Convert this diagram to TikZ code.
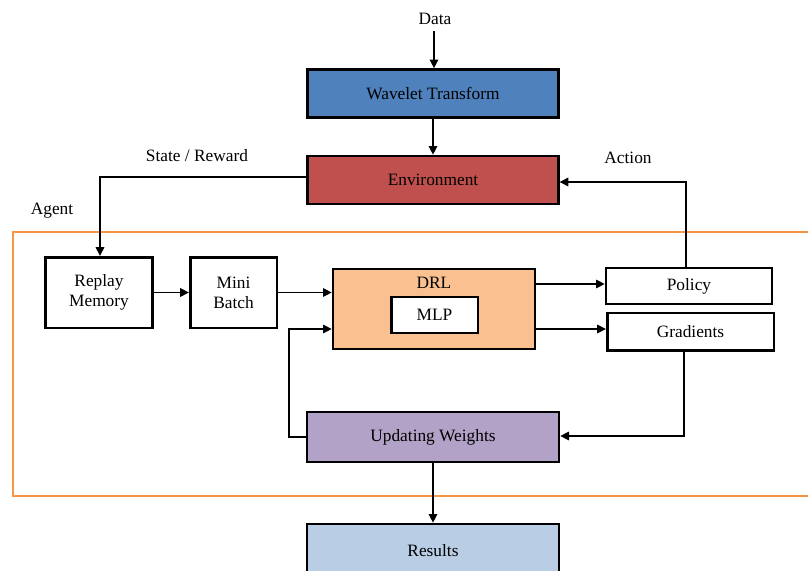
\documentclass[tikz,border=0pt]{standalone}
\usepackage{fontspec}
\setmainfont{Liberation Serif}
\usetikzlibrary{arrows.meta,calc}
\definecolor{wavec}{HTML}{4F81BD}
\definecolor{envc}{HTML}{C0504D}
\definecolor{drlc}{HTML}{FAC090}
\definecolor{updc}{HTML}{B2A2C7}
\definecolor{resc}{HTML}{B9CDE5}
\definecolor{agentc}{HTML}{F79646}
\begin{document}
\begin{tikzpicture}[x=0.75pt,y=-0.75pt,
  font=\fontsize{13}{15}\selectfont,
  box/.style={draw=black,line width=2pt,inner sep=0pt,align=center},
  conn/.style={draw=black,line width=0.9pt},
  arr/.style={conn,-{Triangle[length=6.5pt,width=6.5pt]}},
  lbl/.style={inner sep=0pt}]
\useasboundingbox (0,0) rectangle (808,571);
\clip (0,0) rectangle (808,571);
\fill[white] (0,0) rectangle (808,571);
% agent frame
\draw[agentc,line width=1.9pt] (13,232) rectangle (830,496);
% nodes
\node[lbl] (data) at (435,19) {Data};
\node[box,fill=wavec,minimum width=188pt,minimum height=36pt] (wave) at (433,93.5) {Wavelet Transform};
\node[box,fill=envc,minimum width=188pt,minimum height=36pt] (env) at (433,180) {Environment};
\node[lbl] (sr) at (197,156) {State / Reward};
\node[lbl] (action) at (628,158) {Action};
\node[lbl] (agent) at (52,211) {Agent};
\node[box,fill=white,minimum width=80pt,minimum height=53pt] (replay) at (99,292.5) {Replay\\Memory};
\node[box,fill=white,minimum width=65pt,minimum height=53pt] (mini) at (233.5,292.5) {Mini\\Batch};
\node[box,fill=drlc,minimum width=151.5pt,minimum height=60pt] (drl) at (434,309) {};
\node[lbl] (drltext) at (434,283) {DRL};
\node[box,fill=white,minimum width=65pt,minimum height=27pt] (mlp) at (434.5,315) {MLP};
\node[box,fill=white,minimum width=124.5pt,minimum height=27pt] (policy) at (689,286) {Policy};
\node[box,fill=white,minimum width=125pt,minimum height=28pt] (grad) at (690.5,331.5) {Gradients};
\node[box,fill=updc,minimum width=189pt,minimum height=37.5pt] (upd) at (433,437) {Updating Weights};
\node[box,fill=resc,minimum width=189pt,minimum height=40.5pt] (res) at (433,551) {Results};
\coordinate (datastart) at (434,31);
\coordinate (loop) at (289,329);
\coordinate (srcorner) at (100,177);
\coordinate (actcorner) at (686,182);
\coordinate (gradcorner) at (684,436);
% connectors
\draw[arr] (datastart) -- (datastart |- wave.north);
\draw[arr] (wave) -- (env);
\draw[arr] (env.west |- srcorner) -- (srcorner) -- (srcorner |- replay.north);
\draw[arr] (actcorner |- policy.north) -- (actcorner) -- (actcorner -| env.east);
\draw[arr] (replay) -- (mini);
\draw[arr] (mini.east) -- (mini.east -| drl.west);
\draw[arr] (drl.east |- 0,284) -- (policy.west |- 0,284);
\draw[arr] (drl.east |- 0,329) -- (grad.west |- 0,329);
\draw[arr] (gradcorner |- grad.south) -- (gradcorner) -- (gradcorner -| upd.east);
\draw[arr] (upd.west) -| (loop) -- (loop -| drl.west);
\draw[arr] (upd) -- (res);
\end{tikzpicture}
\end{document}
